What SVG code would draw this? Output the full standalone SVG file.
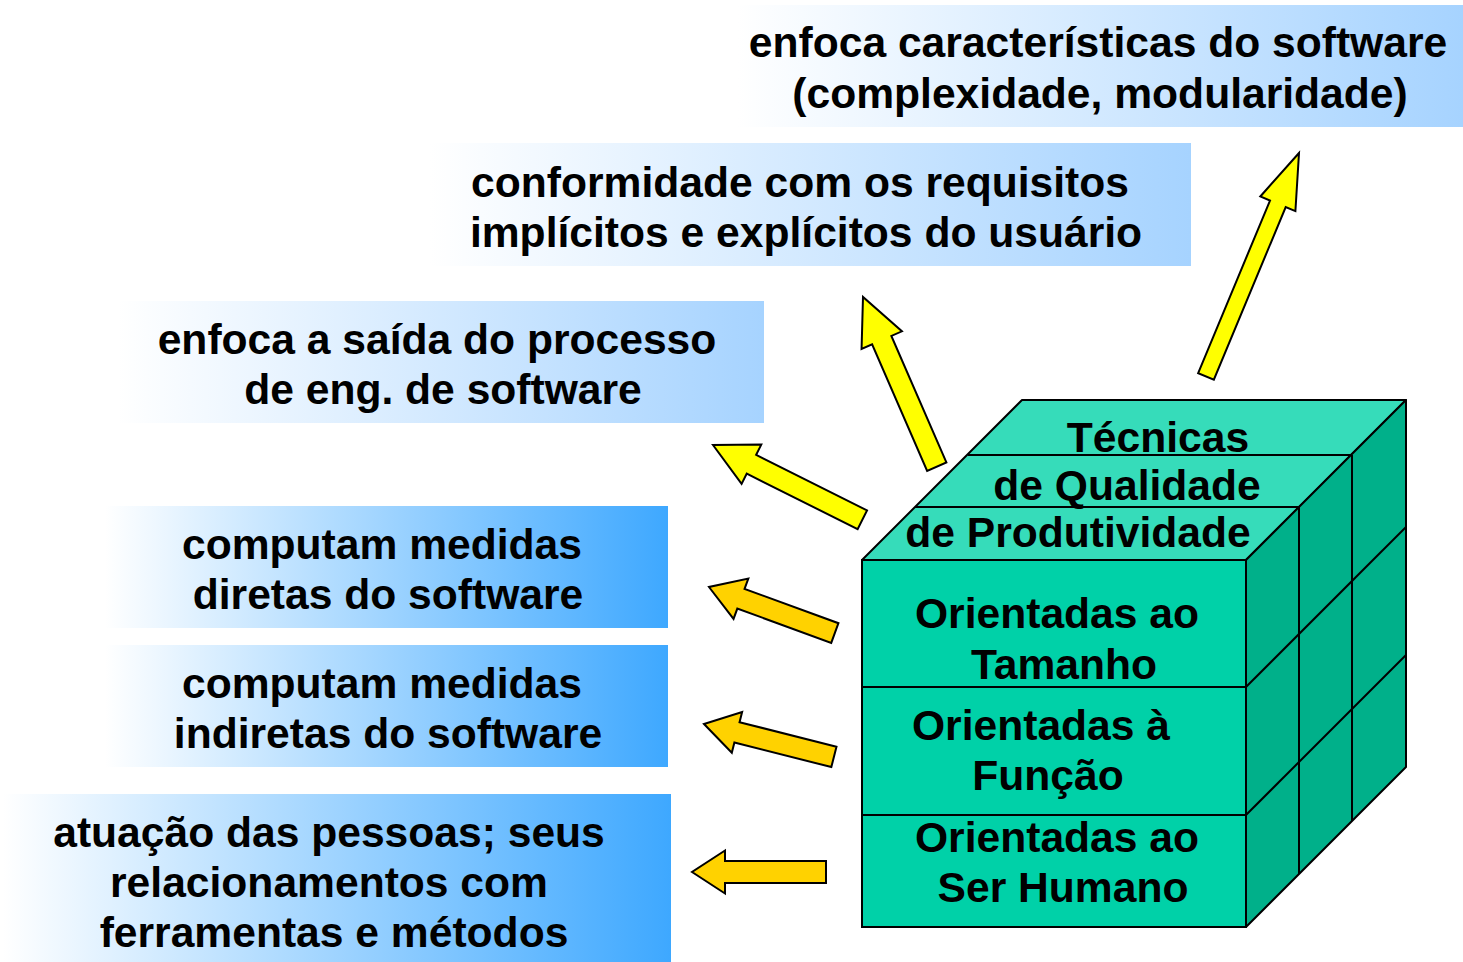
<svg xmlns="http://www.w3.org/2000/svg" width="1463" height="962" viewBox="0 0 1463 962">
  <defs>
    <linearGradient id="gLight" x1="0" y1="0" x2="1" y2="0">
      <stop offset="0" stop-color="#FFFFFF"/>
      <stop offset="1" stop-color="#A6D3FF"/>
    </linearGradient>
    <linearGradient id="gDeep" x1="0" y1="0" x2="1" y2="0">
      <stop offset="0" stop-color="#FFFFFF"/>
      <stop offset="1" stop-color="#3EA8FF"/>
    </linearGradient>
    <style>
      .t { font-family: "Liberation Sans", Arial, sans-serif; font-weight: bold; font-size: 42.6px; fill: #000; text-anchor: middle; }
      .edge { fill: none; stroke: #000; stroke-width: 2; }
      .front { fill: #00D1A8; stroke: #000; stroke-width: 2; }
      .top { fill: #36DCBA; stroke: #000; stroke-width: 2; stroke-linejoin: round; }
      .side { fill: #00B08A; stroke: #000; stroke-width: 2; stroke-linejoin: round; }
      .ay { fill: #FFFF00; stroke: #000; stroke-width: 2; stroke-linejoin: miter; }
      .ag { fill: #FFD200; stroke: #000; stroke-width: 2; stroke-linejoin: miter; }
    </style>
  </defs>

  <rect width="1463" height="962" fill="#FFFFFF"/>

  <!-- text boxes -->
  <g id="box-caracteristicas">
    <rect x="737" y="5" width="726" height="122" fill="url(#gLight)"/>
    <text class="t" x="1098" y="57">enfoca características do software</text>
    <text class="t" x="1100" y="108">(complexidade, modularidade)</text>
  </g>
  <g id="box-conformidade">
    <rect x="430" y="143" width="761" height="123" fill="url(#gLight)"/>
    <text class="t" x="800" y="197">conformidade com os requisitos</text>
    <text class="t" x="806" y="247">implícitos e explícitos do usuário</text>
  </g>
  <g id="box-saida">
    <rect x="118" y="301" width="646" height="122" fill="url(#gLight)"/>
    <text class="t" x="437" y="354">enfoca a saída do processo</text>
    <text class="t" x="443" y="404">de eng. de software</text>
  </g>
  <g id="box-diretas">
    <rect x="105" y="506" width="563" height="122" fill="url(#gDeep)"/>
    <text class="t" x="382" y="559">computam medidas</text>
    <text class="t" x="388" y="609">diretas do software</text>
  </g>
  <g id="box-indiretas">
    <rect x="105" y="645" width="563" height="122" fill="url(#gDeep)"/>
    <text class="t" x="382" y="698">computam medidas</text>
    <text class="t" x="388" y="748">indiretas do software</text>
  </g>
  <g id="box-pessoas">
    <rect x="3" y="794" width="668" height="168" fill="url(#gDeep)"/>
    <text class="t" x="329" y="847">atuação das pessoas; seus</text>
    <text class="t" x="329" y="897">relacionamentos com</text>
    <text class="t" x="334" y="947">ferramentas e métodos</text>
  </g>

  <!-- cube -->
  <g id="cube">
    <polygon class="top" points="862,560 1246,560 1406,400 1022,400"/>
    <polygon class="side" points="1246,560 1406,400 1406,767 1246,927"/>
    <rect class="front" x="862" y="560" width="384" height="367"/>
    <line class="edge" x1="915" y1="507" x2="1299" y2="507"/>
    <line class="edge" x1="968" y1="455" x2="1352" y2="455"/>
    <line class="edge" x1="1299" y1="507" x2="1299" y2="874"/>
    <line class="edge" x1="1352" y1="455" x2="1352" y2="821"/>
    <line class="edge" x1="1246" y1="687" x2="1406" y2="527"/>
    <line class="edge" x1="1246" y1="815" x2="1406" y2="655"/>
    <line class="edge" x1="862" y1="687" x2="1246" y2="687"/>
    <line class="edge" x1="862" y1="815" x2="1246" y2="815"/>
  </g>
  <g id="cube-tecnicas">
    <text class="t" x="1158" y="452">Técnicas</text>
    <text class="t" x="1127" y="500">de Qualidade</text>
    <text class="t" x="1078" y="547">de Produtividade</text>
  </g>
  <g id="cube-tamanho">
    <text class="t" x="1057" y="628">Orientadas ao</text>
    <text class="t" x="1064" y="679">Tamanho</text>
  </g>
  <g id="cube-funcao">
    <text class="t" x="1041" y="740">Orientadas à</text>
    <text class="t" x="1048" y="790">Função</text>
  </g>
  <g id="cube-humano">
    <text class="t" x="1057" y="852">Orientadas ao</text>
    <text class="t" x="1063" y="902">Ser Humano</text>
  </g>

  <!-- connectors -->
  <g id="connectors">
    <polygon class="ay" transform="translate(1299,153) rotate(-67.4)" points="0,0 -55,-19 -55,-8.5 -242,-8.5 -242,8.5 -55,8.5 -55,19"/>
    <polygon class="ay" transform="translate(863,297) rotate(-113.5)" points="0,0 -47,-22 -47,-10.5 -185,-10.5 -185,10.5 -47,10.5 -47,22"/>
    <polygon class="ay" transform="translate(713,445) rotate(-153.4)" points="0,0 -43,-22 -43,-10.5 -167,-10.5 -167,10.5 -43,10.5 -43,22"/>
    <polygon class="ag" transform="translate(709,587) rotate(-159.9)" points="0,0 -34,-21.5 -34,-10.5 -134,-10.5 -134,10.5 -34,10.5 -34,21.5"/>
    <polygon class="ag" transform="translate(704,724) rotate(-165.8)" points="0,0 -34,-21 -34,-10.5 -134,-10.5 -134,10.5 -34,10.5 -34,21"/>
    <polygon class="ag" transform="translate(692,872) rotate(180)" points="0,0 -33,-21.5 -33,-11 -134,-11 -134,11 -33,11 -33,21.5"/>
  </g>
</svg>
